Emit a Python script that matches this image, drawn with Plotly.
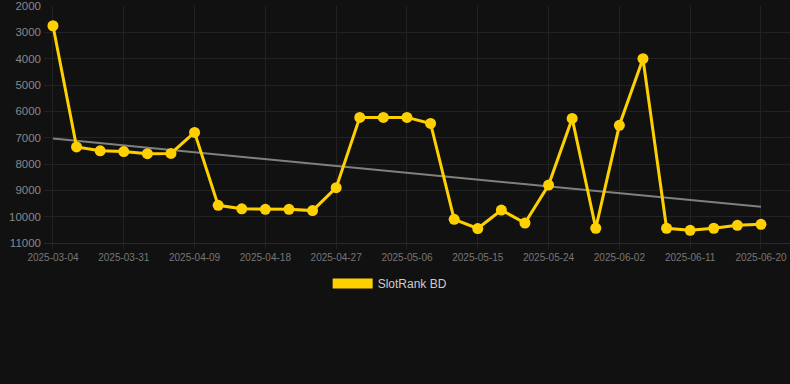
import numpy as np
import pandas as pd
import plotly.graph_objects as go

first_date = ["2025-03-04"]
later_dates = [d.strftime("%Y-%m-%d") for d in pd.date_range("2025-03-25", "2025-06-20", freq="3D")]
dates = first_date + later_dates

ranks = [2750, 7350, 7500, 7530, 7610, 7600, 6800, 9570, 9700, 9720, 9720, 9770,
         8900, 6230, 6230, 6230, 6460, 10100, 10450, 9750, 10240, 8800, 6270,
         10440, 6530, 4000, 10440, 10520, 10440, 10330, 10290]

series_name = "SlotRank BD"
y_ticks = [2000, 3000, 4000, 5000, 6000, 7000, 8000, 9000, 10000, 11000]

idx = np.arange(len(ranks))
slope, intercept = np.polyfit(idx, ranks, 1)
trend_y = [intercept, intercept + slope * idx[-1]]

YELLOW = "#FFD000"
BG = "#111111"
GRID = "#222222"

fig = go.Figure()
fig.add_trace(go.Scatter(
    x=[dates[0], dates[-1]], y=trend_y, mode="lines",
    line=dict(color="#808080", width=2), showlegend=False, hoverinfo="skip"))
fig.add_trace(go.Scatter(
    x=dates, y=ranks, mode="lines+markers",
    line=dict(color=YELLOW, width=3),
    marker=dict(color=YELLOW, size=11),
    showlegend=False))
fig.add_trace(go.Scatter(
    x=[None], y=[None], mode="lines", name=series_name,
    line=dict(color=YELLOW, width=11), showlegend=True))

fig.update_layout(
    width=790, height=384,
    paper_bgcolor=BG, plot_bgcolor=BG,
    margin=dict(l=44, r=0, t=6, b=141),
    font=dict(family="Liberation Sans, Arial, sans-serif", color="#888888"),
    showlegend=True,
    legend=dict(orientation="h", x=0.464, xanchor="center", y=-0.11, yanchor="top",
                font=dict(size=12, color="#cccccc"), itemwidth=40,
                bgcolor="rgba(0,0,0,0)"),
    xaxis=dict(type="category", categoryorder="array", categoryarray=dates,
               range=[-0.38, len(dates) - 1 + 1.23],
               tickmode="array", tickvals=dates[::3], ticktext=dates[::3],
               tickfont=dict(size=10, color="#777777"),
               showgrid=True, gridcolor=GRID, gridwidth=1,
               ticks="outside", ticklen=5, tickcolor="#222222",
               showline=True, linecolor="#2a2a2a", zeroline=False),
    yaxis=dict(range=[11000, 2000], tickvals=y_ticks, tickformat="d",
               tickfont=dict(size=11.5, color="#888888"),
               showgrid=True, gridcolor=GRID, gridwidth=1,
               zeroline=False, ticks="", ticklabelstandoff=2),
)

fig.write_html("out.html", config={"displayModeBar": False},
               post_script="document.body.style.margin='0';document.body.style.background='#111111';")
